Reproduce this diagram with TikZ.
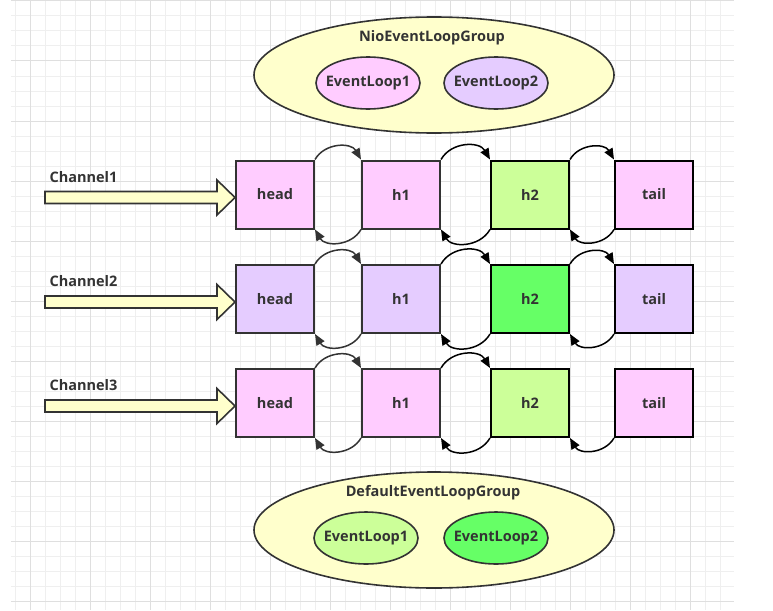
\documentclass[tikz,border=0pt]{standalone}
\usepackage{fontspec}
\setmainfont{Open Sans}
\usetikzlibrary{arrows.meta,shapes.geometric}
\definecolor{gridminor}{HTML}{EFEFEF}
\definecolor{gridmajor}{HTML}{DFDFDF}
\definecolor{pinkf}{HTML}{FFCCFF}
\definecolor{lavf}{HTML}{E5CCFF}
\definecolor{lgreen}{HTML}{CCFF99}
\definecolor{dgreen}{HTML}{66FF66}
\definecolor{yel}{HTML}{FFFFCC}
\definecolor{txt}{HTML}{333333}
\begin{document}
\begin{tikzpicture}[x=1pt,y=1pt,
  lbl/.style={font=\bfseries\fontsize{14.5}{16}\selectfont, text=txt},
  box/.style={lbl, draw=txt, line width=2pt, minimum width=78pt, minimum height=68pt, inner sep=0pt},
  boxk/.style={box, draw=black},
  grp/.style={ellipse, draw=txt, line width=1.6pt, fill=yel, minimum width=360pt, minimum height=116pt, inner sep=0pt},
  loop/.style={ellipse, draw=txt, line width=1.6pt, minimum width=104pt, minimum height=52pt, inner sep=0pt, label={[lbl]center:#1}},
  fwd/.style={-{Triangle[length=11pt,width=9pt]}, line width=1.5pt, draw=black, looseness=1.1},
  chan/.style={draw=txt, line width=1.6pt, fill=yel, line join=miter}
]
\useasboundingbox (0,0) rectangle (773,-610);
\fill[white] (0,0) rectangle (773,-610);
% grid
\foreach \x in {15,30,...,720} \draw[gridminor, line width=1pt] (\x,-1) -- (\x,-610);
\foreach \y in {1,16,...,601} \draw[gridminor, line width=1pt] (11,-\y) -- (734,-\y);
\foreach \x in {30,90,...,690} \draw[gridmajor, line width=1pt] (\x,-1) -- (\x,-610);
\foreach \y in {1,61,...,601} \draw[gridmajor, line width=1pt] (11,-\y) -- (734,-\y);

% top group
\node[grp] (nio) at (434,-75) {};
\node[lbl] (niot) at (432,-38) {NioEventLoopGroup};
\node[loop=EventLoop1, fill=pinkf] (nel1) at (368,-83) {};
\node[loop=EventLoop2, fill=lavf] (nel2) at (496,-83) {};

% bottom group
\node[grp] (def) at (434,-530) {};
\node[lbl] (deft) at (433,-493) {DefaultEventLoopGroup};
\node[loop=EventLoop1, fill=lgreen] (del1) at (366,-538) {};
\node[loop=EventLoop2, fill=dgreen] (del2) at (496,-538) {};

% rows
\foreach \r/\yc/\ca/\cb in {1/194.5/pinkf/lgreen, 2/299/lavf/dgreen, 3/403/pinkf/lgreen}{
  \node[box, fill=\ca] (hd\r) at (275,-\yc) {head};
  \node[box, fill=\ca] (ha\r) at (401,-\yc) {h1};
  \node[boxk, fill=\cb] (hb\r) at (530,-\yc) {h2};
  \node[boxk, fill=\ca] (tl\r) at (654,-\yc) {tail};
  \node[lbl, anchor=west] (ch\r) at (46,-\yc+17.5) {Channel\r};
  \draw[chan] ([yshift=-3pt]hd\r.west) -- ++(-18,17.5) -- ++(0,-11.5) -- ++(-172,0) -- ++(0,-12) -- ++(172,0) -- ++(0,-11.5) -- cycle;
  \draw[fwd, draw=txt] (hd\r.north east) to[out=60,in=120] (ha\r.north west);
  \draw[fwd] (ha\r.north east) to[out=60,in=120] (hb\r.north west);
  \draw[fwd, draw=txt] (ha\r.south west) to[out=-120,in=-60] (hd\r.south east);
  \draw[fwd] (hb\r.south west) to[out=-120,in=-60] (ha\r.south east);
  \draw[fwd] (tl\r.south west) to[out=-120,in=-60] (hb\r.south east);
}
\draw[fwd] (hb1.north east) to[out=60,in=120] (tl1.north west);
\draw[fwd] (hb2.north east) to[out=60,in=120] (tl2.north west);
\end{tikzpicture}
\end{document}
